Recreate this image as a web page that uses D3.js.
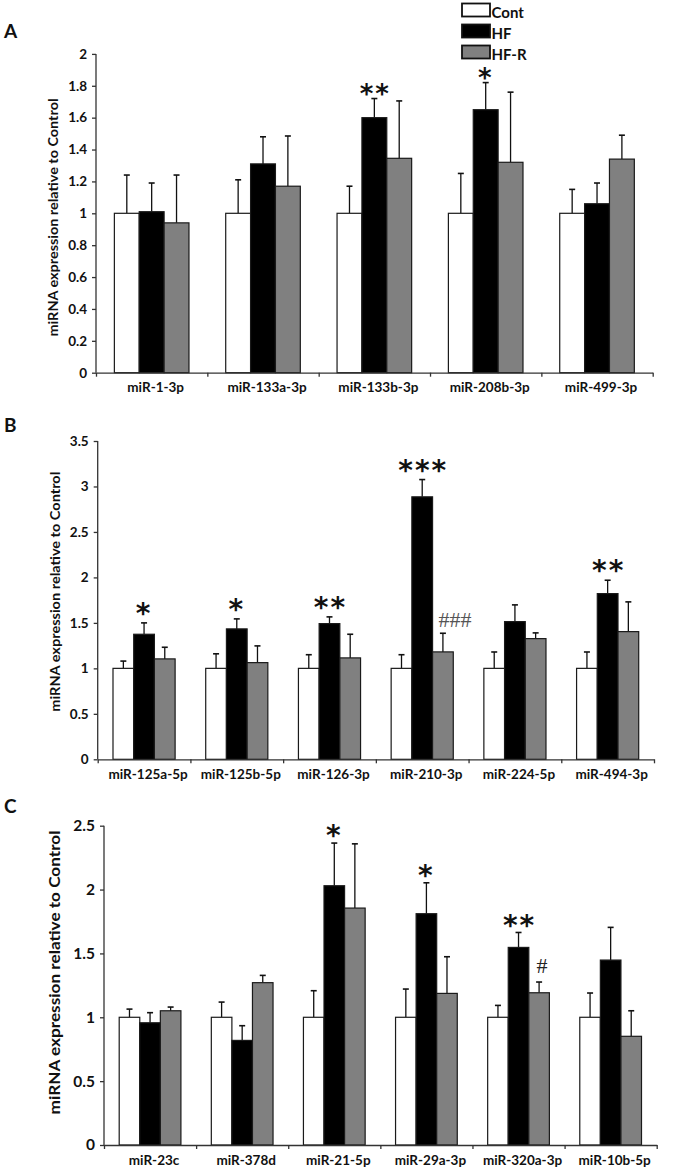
<!DOCTYPE html>
<html>
<head>
<meta charset="utf-8">
<script src="https://cdn.jsdelivr.net/npm/d3@7"></script>
<style>
  html, body { margin: 0; padding: 0; background: #fff; }
  svg { display: block; }
  text { font-family: Lato, "Open Sans", sans-serif; }
</style>
</head>
<body>
<svg id="chart" width="675" height="1173"></svg>
<script>
// ---------------- DATA ----------------
const seriesNames = ["Cont", "HF", "HF-R"];
const seriesColors = ["#ffffff", "#000000", "#808080"];

// Panel A
const catsA = ["miR-1-3p", "miR-133a-3p", "miR-133b-3p", "miR-208b-3p", "miR-499-3p"];
const contA = [1, 1, 1, 1, 1];
const contErrA = [0.24, 0.21, 0.17, 0.25, 0.15];
const hfA = [1.01, 1.31, 1.60, 1.65, 1.06];
const hfErrA = [0.18, 0.17, 0.12, 0.17, 0.13];
const hfrA = [0.94, 1.17, 1.345, 1.32, 1.34];
const hfrErrA = [0.30, 0.315, 0.36, 0.44, 0.15];
const sigHfA = ["", "", "**", "*", ""];
const sigHfrA = ["", "", "", "", ""];
const yTicksA = [0, 0.2, 0.4, 0.6, 0.8, 1, 1.2, 1.4, 1.6, 1.8, 2];

// Panel B
const catsB = ["miR-125a-5p", "miR-125b-5p", "miR-126-3p", "miR-210-3p", "miR-224-5p", "miR-494-3p"];
const contB = [1, 1, 1, 1, 1, 1];
const contErrB = [0.08, 0.16, 0.15, 0.15, 0.18, 0.18];
const hfB = [1.375, 1.434, 1.492, 2.886, 1.514, 1.822];
const hfErrB = [0.125, 0.11, 0.074, 0.19, 0.184, 0.147];
const hfrB = [1.104, 1.063, 1.115, 1.181, 1.327, 1.404];
const hfrErrB = [0.128, 0.184, 0.26, 0.205, 0.063, 0.327];
const sigHfB = ["*", "*", "**", "***", "", "**"];
const sigHfrB = ["", "", "", "###", "", ""];
const yTicksB = [0, 0.5, 1, 1.5, 2, 2.5, 3, 3.5];

// Panel C
const catsC = ["miR-23c", "miR-378d", "miR-21-5p", "miR-29a-3p", "miR-320a-3p", "miR-10b-5p"];
const contC = [1, 1, 1, 1, 1, 1];
const contErrC = [0.064, 0.119, 0.208, 0.221, 0.093, 0.19];
const hfC = [0.957, 0.819, 2.03, 1.811, 1.547, 1.448];
const hfErrC = [0.079, 0.115, 0.334, 0.242, 0.117, 0.256];
const hfrC = [1.051, 1.271, 1.855, 1.187, 1.192, 0.851];
const hfrErrC = [0.029, 0.057, 0.503, 0.287, 0.084, 0.2];
const sigHfC = ["", "", "*", "*", "**", ""];
const sigHfrC = ["", "", "", "", "#", ""];
const yTicksC = [0, 0.5, 1, 1.5, 2, 2.5];

const yTitle = "miRNA expression relative to Control";

// ---------------- DRAW ----------------
const svg = d3.select("#chart");
svg.append("rect").attr("width", 675).attr("height", 1173).attr("fill", "#fff");

function drawPanel(p) {
  const g = svg.append("g");
  const x = d3.scaleBand().domain(p.cats).range([p.x0, p.x1]).padding(0);
  const bw = x.bandwidth();
  const xs = d3.scaleBand().domain(seriesNames).range([bw * 0.165, bw * 0.835]).padding(0);
  const y = d3.scaleLinear().domain([0, p.ymax]).range([p.yBottom, p.yTop]);
  const idx = d3.scaleLinear().domain([0, p.cats.length]).range([p.x0, p.x1]);

  const series = [
    { name: "Cont", vals: p.cont, errs: p.contErr, sig: null },
    { name: "HF", vals: p.hf, errs: p.hfErr, sig: p.sigHf },
    { name: "HF-R", vals: p.hfr, errs: p.hfrErr, sig: p.sigHfr }
  ];

  series.forEach((s, si) => {
    const sg = g.append("g");
    p.cats.forEach((c, i) => {
      const bx = x(c) + xs(s.name);
      const cx = bx + xs.bandwidth() / 2;
      const top = s.vals[i] + s.errs[i];
      sg.append("line").attr("x1", cx).attr("x2", cx)
        .attr("y1", y(s.vals[i])).attr("y2", y(top))
        .attr("stroke", "#111").attr("stroke-width", 1.3);
      sg.append("line").attr("x1", cx - 3).attr("x2", cx + 3)
        .attr("y1", y(top)).attr("y2", y(top))
        .attr("stroke", "#111").attr("stroke-width", 1.6);
      sg.append("rect")
        .attr("x", bx).attr("y", y(s.vals[i]))
        .attr("width", xs.bandwidth()).attr("height", y(0) - y(s.vals[i]))
        .attr("fill", seriesColors[si]).attr("stroke", "#1a1a1a").attr("stroke-width", 1.2);
      if (s.sig && s.sig[i]) {
        const lab = s.sig[i];
        if (lab.indexOf("#") >= 0) {
          const multi = lab.length > 1;
          g.append("text").attr("x", multi ? bx + 6 : cx + 3)
            .attr("y", y(top) - (multi ? 6.5 : 9))
            .attr("text-anchor", multi ? "start" : "middle")
            .style("font-family", "'Liberation Serif', serif")
            .style("font-size", p.hashSize + "px")
            .attr("fill", multi ? "#555" : "#222")
            .text(lab);
        } else {
          const fs = p.starSize;
          g.append("text").attr("x", cx)
            .attr("y", y(top) - p.starGap + 0.58 * fs)
            .attr("text-anchor", "middle")
            .style("font-family", "'DejaVu Sans', sans-serif")
            .style("font-weight", "700")
            .style("font-size", fs + "px")
            .style("letter-spacing", "2px")
            .attr("dx", lab.length > 1 ? 1 : 0)
            .attr("fill", "#111")
            .text(lab);
        }
      }
    });
  });

  // y axis
  const ya = g.append("g").attr("transform", `translate(${p.x0},0)`)
    .call(d3.axisLeft(y).tickValues(p.yTicks).tickFormat(d3.format("~g")).tickSize(4).tickPadding(5));
  ya.selectAll("path, line").attr("stroke", "#333").attr("stroke-width", 1.3);
  ya.select("path").attr("d", `M0,${p.yTop}V${p.yBottom}`);
  ya.selectAll("text").style("font-size", p.tickSize + "px").style("font-weight", "700").attr("fill", "#111");

  // x axis: boundary ticks
  const xa = g.append("g").attr("transform", `translate(0,${p.yBottom})`)
    .call(d3.axisBottom(idx).tickValues(d3.range(p.cats.length + 1)).tickFormat("").tickSize(4).tickSizeOuter(0));
  xa.selectAll("path, line").attr("stroke", "#333").attr("stroke-width", 1.3);

  // category labels
  const xl = g.append("g").attr("transform", `translate(0,${p.yBottom})`)
    .call(d3.axisBottom(x).tickSize(0).tickPadding(p.catPad));
  xl.select("path").remove();
  xl.selectAll("text").style("font-size", p.catSize + "px").style("font-weight", "700")
    .attr("fill", "#111").attr("dx", 4);

  // y title
  g.append("text")
    .attr("transform", `translate(${p.titleX},${p.titleY}) rotate(-90)`)
    .attr("text-anchor", "middle")
    .style("font-size", p.titleSize + "px").style("font-weight", "700")
    .attr("textLength", p.titleLen).attr("lengthAdjust", "spacingAndGlyphs")
    .attr("fill", "#111")
    .text(yTitle);

  // panel letter
  g.append("text").attr("x", 4).attr("y", p.letterY)
    .style("font-size", "19px").style("font-weight", "700").attr("fill", "#111")
    .text(p.letter);
}

drawPanel({
  letter: "A", letterY: 38,
  cats: catsA, cont: contA, contErr: contErrA, hf: hfA, hfErr: hfErrA, hfr: hfrA, hfrErr: hfrErrA,
  sigHf: sigHfA, sigHfr: sigHfrA, yTicks: yTicksA, ymax: 2,
  x0: 96, x1: 652.7, yBottom: 372.7, yTop: 53.9,
  tickSize: 13.5, catSize: 13.5, catPad: 10, titleSize: 13, titleX: 58, titleY: 217.5, titleLen: 238,
  starSize: 26, starGap: 11, hashSize: 20
});

drawPanel({
  letter: "B", letterY: 432,
  cats: catsB, cont: contB, contErr: contErrB, hf: hfB, hfErr: hfErrB, hfr: hfrB, hfrErr: hfrErrB,
  sigHf: sigHfB, sigHfr: sigHfrB, yTicks: yTicksB, ymax: 3.5,
  x0: 97.7, x1: 654, yBottom: 759.3, yTop: 441,
  tickSize: 13.5, catSize: 13.5, catPad: 10, titleSize: 13, titleX: 60, titleY: 591.7, titleLen: 240,
  starSize: 28, starGap: 16, hashSize: 22
});

drawPanel({
  letter: "C", letterY: 813,
  cats: catsC, cont: contC, contErr: contErrC, hf: hfC, hfErr: hfErrC, hfr: hfrC, hfrErr: hfrErrC,
  sigHf: sigHfC, sigHfr: sigHfrC, yTicks: yTicksC, ymax: 2.5,
  x0: 104, x1: 656.7, yBottom: 1145, yTop: 825.7,
  tickSize: 15.5, catSize: 13.5, catPad: 10, titleSize: 15, titleX: 60, titleY: 972.5, titleLen: 284,
  starSize: 28, starGap: 14, hashSize: 22
});

// legend
const leg = svg.append("g");
seriesNames.forEach((n, i) => {
  leg.append("rect").attr("x", 462).attr("y", 3.5 + i * 21).attr("width", 28).attr("height", 13)
    .attr("fill", seriesColors[i]).attr("stroke", "#111").attr("stroke-width", 1.8);
  leg.append("text").attr("x", 491.5).attr("y", 17.5 + i * 21)
    .style("font-size", "15px").style("font-weight", "700").attr("fill", "#111").text(n);
});
</script>
</body>
</html>
